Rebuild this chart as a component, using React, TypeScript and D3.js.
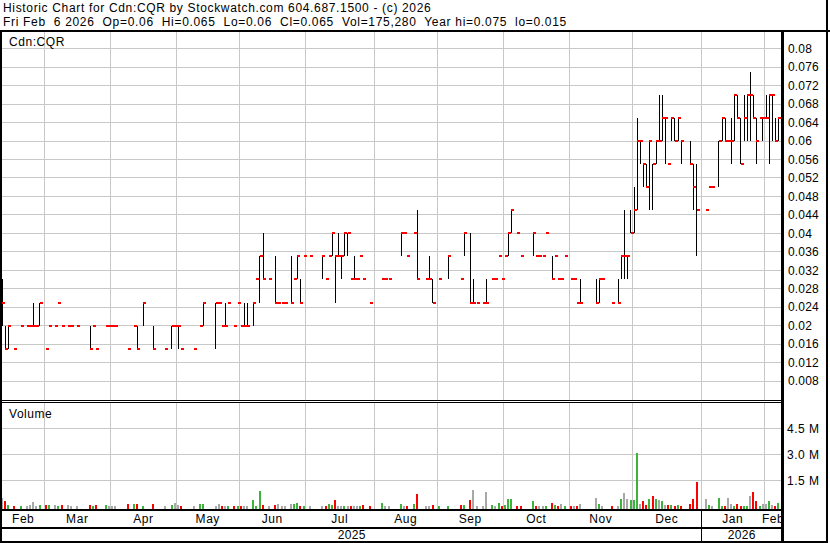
import React from "react";
import * as d3 from "d3";

const WIDTH = 830;
const HEIGHT = 543;

const headerLine1 = "Historic Chart for Cdn:CQR by Stockwatch.com 604.687.1500 - (c) 2026";
const headerLine2 =
  "Fri Feb  6 2026  Op=0.06  Hi=0.065  Lo=0.06  Cl=0.065  Vol=175,280  Year hi=0.075  lo=0.015";
const symbolLabel = "Cdn:CQR";
const volumeTitle = "Volume";

// x axis: month labels and the trading-day index where each month starts
const monthLabels = ["Feb", "Mar", "Apr", "May", "Jun", "Jul", "Aug", "Sep", "Oct", "Nov", "Dec", "Jan", "Feb"];
const monthStarts = [0, 13, 34, 55, 75, 96, 118, 138, 159, 180, 200, 222, 242];
const yearLabels = ["2025", "2026"];
const yearStarts = [0, 222];
const dayCount = 248;

const priceTicks = [
  0.008, 0.012, 0.016, 0.02, 0.024, 0.028, 0.032, 0.036, 0.04, 0.044,
  0.048, 0.052, 0.056, 0.06, 0.064, 0.068, 0.072, 0.076, 0.08,
];
const volumeTicks = [1500000, 3000000, 4500000];
const volumeTickLabels = ["1.5 M", "3.0 M", "4.5 M"];

// [trading day, high, low, close]
const bars: [number, number, number, number][] = [
  [0, 0.03, 0.02, 0.025], [1, 0.02, 0.015, 0.015], [2, 0.02, 0.015, 0.02], [4, 0.015, 0.015, 0.015],
  [6, 0.02, 0.02, 0.02], [8, 0.02, 0.02, 0.02], [9, 0.02, 0.02, 0.02], [10, 0.025, 0.02, 0.02],
  [11, 0.02, 0.02, 0.02], [12, 0.025, 0.02, 0.025],
  [14, 0.015, 0.015, 0.015], [15, 0.02, 0.02, 0.02], [17, 0.02, 0.02, 0.02], [18, 0.025, 0.025, 0.025],
  [19, 0.02, 0.02, 0.02], [21, 0.02, 0.02, 0.02], [22, 0.02, 0.02, 0.02], [24, 0.02, 0.02, 0.02],
  [28, 0.02, 0.015, 0.015], [29, 0.02, 0.02, 0.02], [30, 0.015, 0.015, 0.015], [33, 0.02, 0.02, 0.02],
  [34, 0.02, 0.02, 0.02], [35, 0.02, 0.02, 0.02], [36, 0.02, 0.02, 0.02], [40, 0.015, 0.015, 0.015],
  [42, 0.02, 0.02, 0.02], [43, 0.02, 0.015, 0.015], [45, 0.025, 0.02, 0.025], [48, 0.02, 0.015, 0.015],
  [52, 0.015, 0.015, 0.015], [54, 0.02, 0.015, 0.02],
  [55, 0.02, 0.02, 0.02], [56, 0.02, 0.015, 0.02], [57, 0.015, 0.015, 0.015], [61, 0.015, 0.015, 0.015],
  [63, 0.02, 0.02, 0.02], [64, 0.025, 0.02, 0.025], [68, 0.025, 0.015, 0.025], [69, 0.025, 0.025, 0.025],
  [70, 0.02, 0.02, 0.02], [71, 0.025, 0.02, 0.02], [72, 0.025, 0.025, 0.025], [74, 0.02, 0.02, 0.02],
  [75, 0.025, 0.025, 0.025], [76, 0.02, 0.02, 0.02], [77, 0.025, 0.02, 0.02], [78, 0.025, 0.02, 0.02],
  [80, 0.025, 0.02, 0.025], [81, 0.03, 0.03, 0.03], [82, 0.035, 0.025, 0.035], [83, 0.04, 0.03, 0.03],
  [85, 0.03, 0.03, 0.03], [87, 0.035, 0.025, 0.025], [88, 0.025, 0.025, 0.025], [89, 0.025, 0.025, 0.025],
  [90, 0.025, 0.025, 0.025], [92, 0.035, 0.025, 0.025], [93, 0.03, 0.03, 0.03], [94, 0.035, 0.03, 0.035],
  [95, 0.03, 0.025, 0.025],
  [96, 0.035, 0.035, 0.035], [98, 0.035, 0.035, 0.035], [102, 0.035, 0.03, 0.035], [103, 0.03, 0.03, 0.03],
  [104, 0.035, 0.035, 0.035], [105, 0.04, 0.035, 0.04], [106, 0.035, 0.025, 0.035], [107, 0.04, 0.035, 0.035],
  [108, 0.035, 0.03, 0.035], [109, 0.04, 0.035, 0.04], [110, 0.04, 0.035, 0.04], [111, 0.03, 0.03, 0.03],
  [112, 0.035, 0.03, 0.03], [113, 0.03, 0.03, 0.03], [114, 0.035, 0.035, 0.035], [115, 0.03, 0.03, 0.03],
  [117, 0.025, 0.025, 0.025],
  [121, 0.03, 0.03, 0.03], [122, 0.03, 0.03, 0.03], [123, 0.03, 0.03, 0.03], [127, 0.04, 0.035, 0.04],
  [128, 0.04, 0.04, 0.04], [129, 0.035, 0.035, 0.035], [131, 0.04, 0.04, 0.04], [132, 0.045, 0.03, 0.03],
  [135, 0.03, 0.03, 0.03], [136, 0.035, 0.03, 0.03], [137, 0.03, 0.025, 0.025],
  [139, 0.03, 0.03, 0.03], [142, 0.035, 0.03, 0.035], [146, 0.03, 0.03, 0.03], [147, 0.04, 0.035, 0.04],
  [149, 0.04, 0.025, 0.025], [150, 0.03, 0.025, 0.025], [151, 0.025, 0.025, 0.025], [153, 0.025, 0.025, 0.025],
  [154, 0.03, 0.025, 0.025], [156, 0.03, 0.03, 0.03], [157, 0.03, 0.03, 0.03], [158, 0.035, 0.035, 0.035],
  [159, 0.03, 0.03, 0.03], [160, 0.035, 0.035, 0.035], [161, 0.04, 0.035, 0.04], [162, 0.045, 0.04, 0.045],
  [164, 0.04, 0.04, 0.04], [165, 0.035, 0.035, 0.035], [169, 0.04, 0.035, 0.04], [170, 0.035, 0.035, 0.035],
  [171, 0.035, 0.035, 0.035], [172, 0.035, 0.035, 0.035], [173, 0.04, 0.04, 0.04], [175, 0.035, 0.03, 0.03],
  [176, 0.035, 0.035, 0.035], [177, 0.03, 0.03, 0.03], [178, 0.03, 0.03, 0.03], [179, 0.035, 0.035, 0.035],
  [181, 0.03, 0.03, 0.03], [182, 0.03, 0.03, 0.03], [183, 0.025, 0.025, 0.025], [184, 0.03, 0.025, 0.025],
  [189, 0.03, 0.025, 0.025], [190, 0.03, 0.025, 0.03], [191, 0.03, 0.03, 0.03], [194, 0.025, 0.025, 0.025],
  [196, 0.03, 0.025, 0.025], [197, 0.035, 0.03, 0.035], [198, 0.045, 0.03, 0.035], [199, 0.035, 0.03, 0.035],
  [200, 0.045, 0.04, 0.04], [201, 0.05, 0.04, 0.045], [202, 0.065, 0.045, 0.06], [203, 0.06, 0.055, 0.06],
  [204, 0.055, 0.05, 0.055], [205, 0.055, 0.05, 0.05], [206, 0.06, 0.045, 0.06], [207, 0.055, 0.045, 0.055],
  [208, 0.06, 0.055, 0.06], [209, 0.07, 0.06, 0.06], [210, 0.07, 0.06, 0.065], [211, 0.065, 0.055, 0.065],
  [212, 0.055, 0.055, 0.055], [213, 0.065, 0.06, 0.065], [214, 0.065, 0.06, 0.06], [215, 0.065, 0.06, 0.065],
  [216, 0.06, 0.055, 0.06], [219, 0.06, 0.055, 0.055], [220, 0.055, 0.045, 0.05], [221, 0.055, 0.035, 0.045],
  [224, 0.045, 0.045, 0.045], [225, 0.05, 0.05, 0.05], [226, 0.05, 0.05, 0.05], [228, 0.06, 0.05, 0.06],
  [229, 0.065, 0.06, 0.065], [230, 0.065, 0.06, 0.06], [231, 0.06, 0.06, 0.06], [232, 0.065, 0.055, 0.06],
  [233, 0.07, 0.06, 0.07], [234, 0.07, 0.065, 0.065], [235, 0.065, 0.055, 0.055], [236, 0.07, 0.06, 0.065],
  [237, 0.07, 0.06, 0.07], [238, 0.075, 0.06, 0.07], [239, 0.07, 0.065, 0.065], [240, 0.065, 0.055, 0.06],
  [241, 0.065, 0.065, 0.065],
  [242, 0.065, 0.06, 0.065], [243, 0.07, 0.065, 0.065], [244, 0.07, 0.055, 0.07], [245, 0.07, 0.06, 0.07],
  [246, 0.065, 0.06, 0.06], [247, 0.065, 0.06, 0.065],
];

// [trading day, volume in thousands of shares]
const volumes: [number, number][] = [
  [0, 500], [1, 280], [2, 60], [4, 40], [6, 40], [8, 40], [9, 80], [10, 230], [11, 30], [12, 50],
  [14, 60], [15, 50], [17, 70], [18, 40], [19, 50], [21, 60], [22, 30], [24, 40], [28, 60], [29, 30],
  [30, 50], [33, 70], [34, 40], [35, 30], [36, 40], [40, 120], [42, 140], [43, 160], [45, 40], [48, 150],
  [52, 30], [54, 60], [55, 200], [56, 60], [57, 40], [61, 30], [63, 160], [64, 160], [68, 40], [69, 150],
  [70, 30], [71, 30], [72, 30], [74, 30], [75, 30], [76, 40], [77, 40], [78, 40], [80, 350], [81, 30],
  [82, 870], [83, 60], [85, 40], [87, 50], [88, 150], [89, 40], [90, 40], [92, 150], [93, 150], [94, 200],
  [95, 40], [96, 30], [98, 30], [102, 30], [103, 30], [104, 150], [105, 50], [106, 350], [107, 40], [108, 40],
  [109, 40], [110, 40], [111, 40], [112, 40], [113, 30], [114, 40], [115, 80], [117, 40], [121, 200], [122, 30],
  [123, 30], [127, 150], [128, 40], [129, 40], [131, 150], [132, 700], [135, 40], [136, 40], [137, 60], [139, 30],
  [142, 30], [146, 50], [147, 50], [149, 350], [150, 920], [151, 30], [153, 40], [154, 800], [156, 60], [157, 40],
  [158, 200], [159, 30], [160, 60], [161, 450], [162, 450], [164, 40], [165, 40], [169, 280], [170, 40], [171, 40],
  [172, 40], [173, 40], [175, 200], [176, 60], [177, 40], [178, 150], [179, 30], [181, 40], [182, 40], [183, 40],
  [184, 150], [189, 500], [190, 150], [191, 30], [194, 40], [196, 30], [197, 400], [198, 750], [199, 400], [200, 350],
  [201, 350], [202, 3100], [203, 150], [204, 280], [205, 60], [206, 400], [207, 580], [208, 450], [209, 350], [210, 300],
  [211, 80], [212, 60], [213, 60], [214, 40], [215, 60], [216, 40], [219, 150], [220, 400], [221, 1400], [224, 400],
  [225, 60], [226, 40], [228, 500], [229, 40], [230, 40], [231, 500], [232, 150], [233, 40], [234, 150], [235, 30],
  [236, 40], [237, 30], [238, 580], [239, 800], [240, 300], [241, 40], [242, 150], [243, 150], [244, 300], [245, 100],
  [246, 30], [247, 175],
];

const FONT = "'Liberation Sans', Arial, Helvetica, sans-serif";
const GRID = "#c8c8c8";
const RED = "#ff0000";
const GREEN = "#3cb43c";
const GRAY = "#a8a8a8";

const layout = {
  left: 2.1,
  step: 3.144,
  gridOffset: 1.3,
  plotRight: 781,
  axisX: 782,
  priceTop: 31,
  priceBottom: 400,
  volTop: 402,
  volBottom: 508.5,
  bottom: 541.3,
};

export default function App() {
  const x = d3
    .scaleLinear()
    .domain([0, dayCount - 1])
    .range([layout.left, layout.left + layout.step * (dayCount - 1)]);
  const y = d3.scaleLinear().domain([0.004, 0.08]).range([399.5, 48.7]);
  const yv = d3.scaleLinear().domain([0, 4500000]).range([506.3, 428.3]);

  const gridX = (d: number) => x(d) + layout.gridOffset;
  const closeByDay = new Map<number, number>();
  bars.forEach((b) => closeByDay.set(b[0], b[3]));
  const sortedDays = bars.map((b) => b[0]).sort((a, b) => a - b);

  const volColor = (day: number) => {
    const c = closeByDay.get(day);
    const idx = sortedDays.indexOf(day);
    if (c === undefined || idx <= 0) return GRAY;
    const prev = closeByDay.get(sortedDays[idx - 1])!;
    if (c > prev + 1e-9) return GREEN;
    if (c < prev - 1e-9) return RED;
    return GRAY;
  };

  const fmtPrice = (v: number) => String(+v.toFixed(3));

  const monthBounds = monthStarts.map((s, k) => {
    const a = k === 0 ? layout.left : gridX(s);
    const b = k === monthStarts.length - 1 ? layout.axisX : gridX(monthStarts[k + 1]);
    return { a, b };
  });
  const yearBounds = yearStarts.map((s, k) => {
    const a = k === 0 ? layout.left : gridX(s);
    const b = k === yearStarts.length - 1 ? layout.axisX : gridX(yearStarts[k + 1]);
    return { a, b };
  });

  return (
    <svg
      width={WIDTH}
      height={HEIGHT}
      style={{ position: "absolute", left: 0, top: 0, display: "block" }}
      fontFamily={FONT}
      fontSize={12}
    >
      <defs>
        <clipPath id="plotClip">
          <rect x={0} y={0} width={layout.plotRight} height={HEIGHT} />
        </clipPath>
      </defs>
      <rect x={0} y={0} width={WIDTH} height={HEIGHT} fill="#fff" />

      {/* header */}
      <text x={3} y={11.5} fill="#000" letterSpacing={0.66} xmlSpace="preserve" style={{ whiteSpace: "pre" }}>
        {headerLine1}
      </text>
      <text x={3} y={25.5} fill="#000" letterSpacing={0.68} xmlSpace="preserve" style={{ whiteSpace: "pre" }}>
        {headerLine2}
      </text>

      {/* grid */}
      <g shapeRendering="crispEdges" stroke={GRID} strokeWidth={1}>
        {priceTicks.map((t) => (
          <line key={"pg" + t} x1={layout.left} x2={layout.plotRight} y1={y(t)} y2={y(t)} />
        ))}
        {monthStarts.slice(1).map((s) => (
          <line key={"pv" + s} x1={gridX(s)} x2={gridX(s)} y1={layout.priceTop} y2={layout.priceBottom} />
        ))}
        {volumeTicks.map((t) => (
          <line key={"vg" + t} x1={layout.left} x2={layout.plotRight} y1={yv(t)} y2={yv(t)} />
        ))}
        {monthStarts.slice(1).map((s) => (
          <line key={"vv" + s} x1={gridX(s)} x2={gridX(s)} y1={layout.volTop} y2={layout.volBottom} />
        ))}
      </g>

      {/* price bars */}
      <g shapeRendering="crispEdges">
        {bars.map(([d, h, l]) =>
          h > l ? (
            <line key={"hl" + d} x1={x(d)} x2={x(d)} y1={y(h)} y2={y(l)} stroke="#000" strokeWidth={1} />
          ) : null
        )}
        {bars.map(([d, , , c]) => (
          <rect key={"c" + d} x={x(d) - 0.3} y={y(c) - 1} width={3} height={2} fill={RED} />
        ))}
      </g>

      {/* volume bars */}
      <g shapeRendering="crispEdges">
        {volumes.map(([d, v]) => (
          <rect
            key={"v" + d}
            x={x(d) - 1.3}
            y={yv(v * 1000)}
            width={2}
            height={layout.volBottom - yv(v * 1000)}
            fill={volColor(d)}
          />
        ))}
      </g>

      {/* labels in panels */}
      <text x={9} y={46} fill="#000" letterSpacing={0.55}>{symbolLabel}</text>
      <text x={9} y={417.5} fill="#000" letterSpacing={0.55}>{volumeTitle}</text>

      {/* right axis labels */}
      {priceTicks.map((t) => (
        <text key={"pl" + t} x={788} y={y(t) + 4.3} fill="#000" letterSpacing={0.15}>
          {fmtPrice(t)}
        </text>
      ))}
      {volumeTicks.map((t, k) => (
        <text key={"vl" + t} x={787} y={yv(t) + 4.3} fill="#000" letterSpacing={0.5}>
          {volumeTickLabels[k]}
        </text>
      ))}

      {/* month and year labels */}
      <g clipPath="url(#plotClip)">
        {monthLabels.map((m, k) => (
          <text
            key={"m" + k}
            x={(monthBounds[k].a + monthBounds[k].b) / 2}
            y={522.5}
            textAnchor="middle"
            fill="#000"
            letterSpacing={0.55}
          >
            {m}
          </text>
        ))}
        {yearLabels.map((yr, k) => (
          <text
            key={"y" + k}
            x={(yearBounds[k].a + yearBounds[k].b) / 2}
            y={538.5}
            textAnchor="middle"
            fill="#000"
            letterSpacing={0.3}
          >
            {yr}
          </text>
        ))}
      </g>

      {/* frame lines */}
      <g shapeRendering="crispEdges" fill="#000">
        <rect x={0} y={29.5} width={WIDTH} height={2} />
        <rect x={0} y={400} width={layout.axisX} height={1} />
        <rect x={0} y={402} width={layout.axisX} height={1} />
        <rect x={0} y={508.5} width={layout.axisX} height={2} />
        <rect x={0} y={527} width={layout.axisX} height={1.5} />
        <rect x={0} y={layout.bottom - 0.8} width={828} height={2} />
        <rect x={781} y={30} width={2.5} height={512} />
        <rect x={825.7} y={0} width={2} height={542} />
        <rect x={0} y={30} width={1.5} height={512} />
        <rect x={gridX(yearStarts[1]) - 0.7} y={509} width={1.5} height={33} />
      </g>
    </svg>
  );
}
